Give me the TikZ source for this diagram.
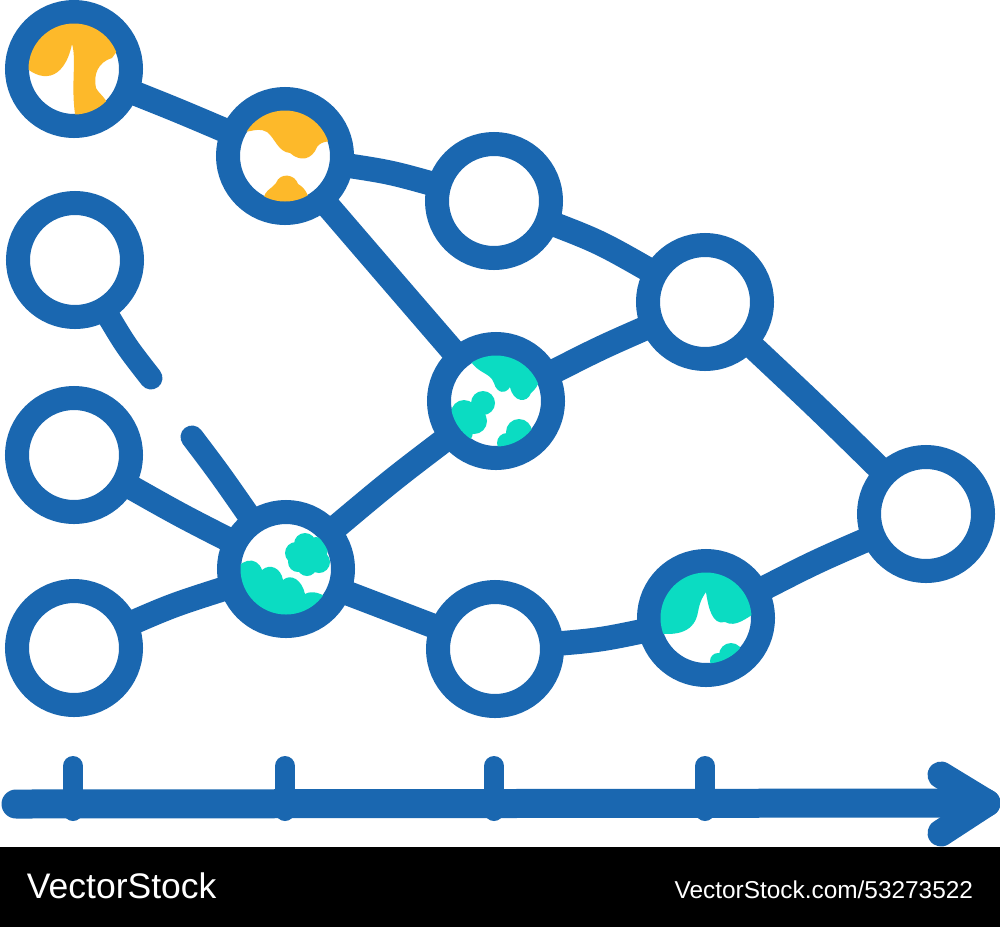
\documentclass[tikz,border=0pt]{standalone}
\usepackage{fontspec}
\setmainfont{Liberation Sans}
\definecolor{vblue}{HTML}{1A67B0}
\definecolor{vorange}{HTML}{FDB92A}
\definecolor{vteal}{HTML}{0BDCC2}
\tikzset{
  ring/.style={circle, draw=vblue, line width=24pt, minimum size=114pt, inner sep=0pt, outer sep=0pt},
  edge/.style={draw=vblue, line width=24.5pt},
  stub/.style={draw=vblue, line width=23pt, line cap=round},
  axisline/.style={draw=vblue, line width=29pt, line cap=round},
  tickmark/.style={draw=vblue, line width=20pt, line cap=round},
  barb/.style={draw=vblue, line width=27pt, line cap=round},
  wm/.style={text=white, inner sep=0pt, outer sep=0pt}
}
\begin{document}
\begin{tikzpicture}[x=1pt,y=-1pt]
\useasboundingbox (0,0) rectangle (1000,927);
\fill[white] (0,0) rectangle (1000,927);

% rings
\node[ring] (A) at (74,69) {};
\node[ring] (B) at (285,156) {};
\node[ring] (C) at (494,201) {};
\node[ring] (D) at (705,302) {};
\node[ring] (E) at (75,260) {};
\node[ring] (F) at (74,455) {};
\node[ring] (G) at (286,569) {};
\node[ring] (H) at (74,648) {};
\node[ring] (I) at (496,401) {};
\node[ring] (J) at (495,649) {};
\node[ring] (K) at (706,618) {};
\node[ring] (L) at (926,514) {};

% blobs
\begin{scope}
  \clip (A.center) circle[radius=45.5pt];
  \fill[vorange] (20,15) -- (20,62) .. controls (40,84) and (64,82) .. (72,44)
     .. controls (77,60) and (70,88) .. (76,120) -- (110,120)
     .. controls (112,100) and (100,96) .. (96,88)
     .. controls (93,75) and (98,62) .. (112,58) -- (125,40) -- (125,15) -- cycle;
\end{scope}
\begin{scope}
  \clip (B.center) circle[radius=45.5pt];
  \fill[vorange] (230,100) -- (230,128) .. controls (245,138) and (255,125) .. (267,132)
     .. controls (275,138) and (278,152) .. (290,153)
     .. controls (300,162) and (312,160) .. (317,147)
     .. controls (322,140) and (330,142) .. (340,140) -- (340,100) -- cycle;
  \fill[vorange] (262,210) .. controls (262,188) and (272,190) .. (276,183)
     .. controls (280,172) and (295,174) .. (298,184)
     .. controls (305,188) and (310,195) .. (310,210) -- cycle;
\end{scope}
\begin{scope}
  \clip (G.center) circle[radius=45.5pt];
  \fill[vteal] (230,625) -- (232,578) .. controls (238,558) and (257,555) .. (262,570)
     .. controls (270,563) and (281,568) .. (283,580)
     .. controls (291,573) and (302,580) .. (305,594)
     .. controls (312,590) and (322,593) .. (330,600) -- (340,625) -- cycle;
  \fill[vteal] (296,553) circle[radius=11pt] (305,544) circle[radius=11pt]
     (316,549) circle[radius=12pt] (319,562) circle[radius=11pt]
     (307,566) circle[radius=10pt] (298,562) circle[radius=10pt];
  \fill[vteal] (296,553) -- (305,544) -- (316,549) -- (319,562) -- (307,566) -- (298,562) -- cycle;
\end{scope}
\begin{scope}
  \clip (I.center) circle[radius=45.5pt];
  \fill[vteal] (465,345) -- (470,360) .. controls (478,374) and (490,372) .. (494,383)
     .. controls (497,394) and (506,394) .. (510,387)
     .. controls (513,402) and (527,404) .. (531,393)
     .. controls (540,386) and (540,376) .. (546,362) -- (546,340) -- cycle;
  \fill[vteal] (464,413) circle[radius=13pt] (483,403) circle[radius=12pt]
     (474,421) circle[radius=13pt] (461,432) circle[radius=12pt]
     (519,432) circle[radius=13pt] (507,443) circle[radius=10pt];
  \fill[vteal] (464,413) -- (483,403) -- (474,421) -- (461,432) -- cycle;
\end{scope}
\begin{scope}
  \clip (K.center) circle[radius=45.5pt];
  \fill[vteal] (650,560) -- (650,632) .. controls (680,638) and (695,630) .. (698,612)
     .. controls (700,600) and (704,595) .. (706,592)
     .. controls (708,606) and (712,626) .. (725,622)
     .. controls (736,628) and (746,618) .. (760,610) -- (760,560) -- cycle;
  \fill[vteal] (731,655) circle[radius=12pt] (718,661) circle[radius=8pt];
\end{scope}

% connectors
\draw[edge] (A) .. controls (177,110) .. (B);
\draw[edge] (B) .. controls (390,172) .. (C);
\draw[edge] (B) .. controls (383,270) .. (I);
\draw[edge] (C) .. controls (600,242) .. (D);
\draw[edge] (I) .. controls (600,348) .. (D);
\draw[edge] (D) .. controls (818,408) .. (L);
\draw[edge] (F) .. controls (180,515) .. (G);
\draw[edge] (H) .. controls (173,605) .. (G);
\draw[edge] (G) .. controls (392,480) .. (I);
\draw[edge] (G) .. controls (390,610) .. (J);
\draw[edge] (J) .. controls (600,640) .. (K);
\draw[edge] (K) .. controls (815,562) .. (L);

% magnifier handle and loose stub
\coordinate (hE) at (151,378);
\draw[stub] (E) .. controls (126,346) .. (hE);
\coordinate (sG) at (192,437);
\draw[stub] (sG) .. controls (220,474) .. (G);

% time axis
\coordinate (ax0) at (16,804);
\coordinate (ax1) at (985,803);
\draw[axisline] (ax0) -- (ax1);
\foreach \t/\x in {1/73,2/285,3/494,4/705}{
  \coordinate (t\t a) at (\x,766);
  \coordinate (t\t b) at (\x,811);
  \draw[tickmark] (t\t a) -- (t\t b);
}
\coordinate (tip) at (987,803);
\coordinate (bu) at (941,775);
\coordinate (bl) at (941,833);
\draw[barb] (bu) -- (tip);
\draw[barb] (bl) -- (tip);

% watermark bar
\fill[black] (0,847) rectangle (1000,927);
\node[wm, anchor=base west] (wm1) at (27,898) {\fontsize{35.5}{40}\selectfont VectorStock};
\node[wm, anchor=base east] (wm2) at (973,898) {\fontsize{24.4}{28}\selectfont VectorStock.com/53273522};
\end{tikzpicture}
\end{document}
